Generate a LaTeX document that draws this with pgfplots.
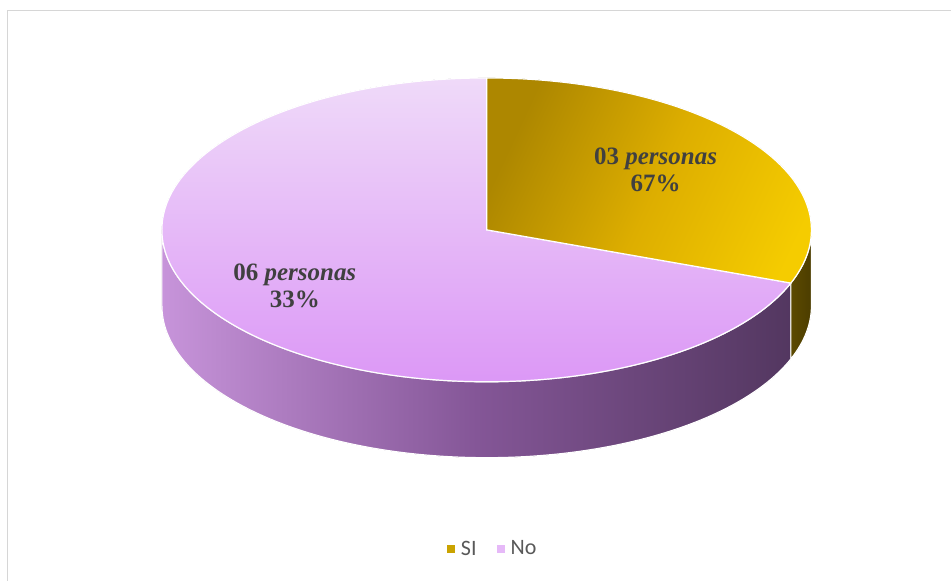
\documentclass[border=0pt]{standalone}
\usepackage{pgfplots}
\pgfplotsset{compat=1.18}
\usepackage{pgfplotstable}
\usepackage{fontspec}
\setmainfont{Liberation Serif}
\newfontfamily\legendfont{Carlito}

\definecolor{goldD}{HTML}{AD8700}
\definecolor{goldM}{HTML}{DDAE00}
\definecolor{goldL}{HTML}{F5CC00}
\definecolor{goldWall}{HTML}{5C4A00}
\definecolor{goldWallR}{HTML}{4C3D00}
\definecolor{pinkT}{HTML}{EFDAF9}
\definecolor{pinkB}{HTML}{DC98F6}
\definecolor{wallL}{HTML}{C794DA}
\definecolor{wallM}{HTML}{845697}
\definecolor{wallR}{HTML}{533760}
\definecolor{lbl}{HTML}{404040}
\definecolor{legtext}{HTML}{595959}
\definecolor{frame}{HTML}{D6D6D6}

\pgfplotstableread{
cat value
SI  3
No  6
}\piedata

\begin{document}%
\begin{tikzpicture}
\pgfplotstablegetelem{0}{value}\of\piedata \let\vSI\pgfplotsretval
\pgfplotstablegetelem{1}{value}\of\piedata \let\vNo\pgfplotsretval
\pgfmathsetmacro\total{\vSI+\vNo}
\pgfmathsetmacro\sweep{360*\vSI/\total}
% 3-D view: projected end angle of the first slice
\pgfmathsetmacro\tend{atan2(0.648*sin(90-\sweep), cos(90-\sweep))}
\pgfmathsetmacro\tendp{\tend+360}
\def\cx{487}\def\cy{351}\def\rx{325}\def\ry{152}\def\dep{76}
\pgfmathsetmacro\cyb{\cy-\dep}
\pgfmathsetmacro\xE{\cx+\rx*cos(\tend)}
\pgfmathsetmacro\yE{\cy+\ry*sin(\tend)}
\pgfmathsetmacro\yEb{\yE-\dep}
\pgfmathsetmacro\xL{\cx-\rx}
\pgfmathsetmacro\xR{\cx+\rx}
\pgfmathsetmacro\yT{\cy+\ry}
\begin{axis}[
  hide axis, scale only axis,
  width=952pt, height=581pt,
  xmin=0, xmax=952, ymin=0, ymax=581,
  clip=false,
  legend columns=2,
  legend image code/.code={\fill[#1, draw=none] (0pt,-4pt) rectangle (8pt,4pt);},
  legend style={at={(axis cs:493,32)}, anchor=center, draw=none, fill=none,
    font=\legendfont\fontsize{22}{24}\selectfont, text=legtext,
    /tikz/every odd column/.append style={column sep=4pt},
    /tikz/every even column/.append style={column sep=18pt}},
]
% bounding box of the whole chart area
\path (axis cs:0,0) rectangle (axis cs:952,581);
% frame
\draw[frame, line width=1.3pt] (axis cs:7.5,0) -- (axis cs:7.5,570.5) -- (axis cs:952,570.5);
% pink side wall
\fill[left color=wallL, right color=wallR, middle color=wallM, draw=white, line width=1.2pt]
  (axis cs:\xL,\cy) -- (axis cs:\xL,\cyb)
  arc[start angle=180, end angle=\tendp, x radius=\rx, y radius=\ry]
  -- (axis cs:\xE,\yE)
  arc[start angle=\tendp, end angle=180, x radius=\rx, y radius=\ry] -- cycle;
% gold side wall
\fill[left color=goldWall, right color=goldWallR, draw=white, line width=1.2pt]
  (axis cs:\xE,\yE) -- (axis cs:\xE,\yEb)
  arc[start angle=\tendp, end angle=360, x radius=\rx, y radius=\ry]
  -- (axis cs:\xR,\cy)
  arc[start angle=360, end angle=\tendp, x radius=\rx, y radius=\ry] -- cycle;
% pink top
\fill[top color=pinkT, bottom color=pinkB, draw=white, line width=1.2pt]
  (axis cs:\cx,\cy) -- (axis cs:\cx,\yT)
  arc[start angle=90, end angle=\tendp, x radius=\rx, y radius=\ry] -- cycle;
% gold top
\fill[left color=goldD, right color=goldL, middle color=goldM, shading angle=65, draw=white, line width=1.2pt]
  (axis cs:\cx,\cy) -- (axis cs:\xE,\yE)
  arc[start angle=\tend, end angle=90, x radius=\rx, y radius=\ry] -- cycle;
% labels
\node[font=\bfseries\fontsize{25}{27}\selectfont, text=lbl, align=center]
  at (axis cs:656,411) {0\vSI{} \textit{personas}\\67\%};
\node[font=\bfseries\fontsize{25}{27}\selectfont, text=lbl, align=center]
  at (axis cs:295,295) {0\vNo{} \textit{personas}\\33\%};
\addlegendimage{fill=goldD!60!goldL}
\addlegendentry{SI}
\addlegendimage{fill=pinkT!50!pinkB}
\addlegendentry{No}
\end{axis}
\end{tikzpicture}%
\end{document}
